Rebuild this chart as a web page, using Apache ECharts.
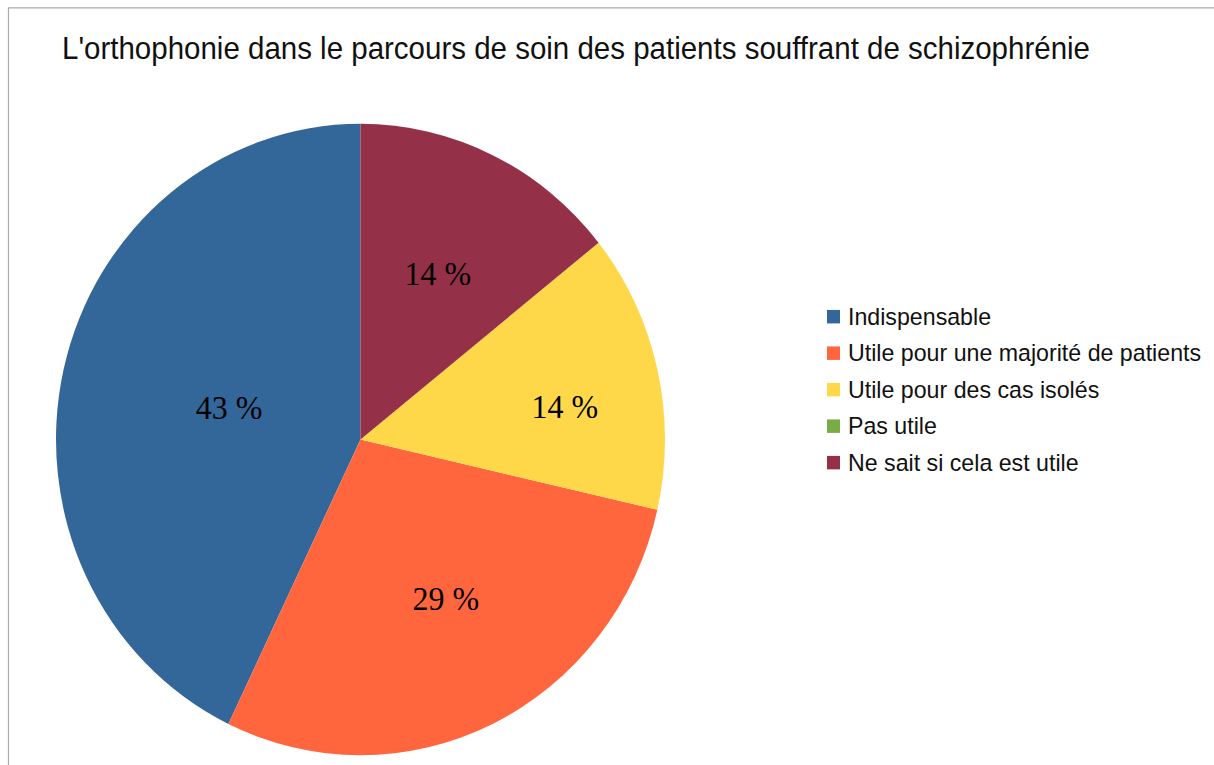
<!DOCTYPE html>
<html>
<head>
<meta charset="utf-8">
<script src="https://cdn.jsdelivr.net/npm/echarts@6/dist/echarts.min.js"></script>
<style>
  html, body { margin: 0; padding: 0; background: #ffffff; }
  #wrap { width: 1214px; height: 765px; overflow: hidden; position: relative; background: #ffffff; }
  #chart { position: absolute; left: 0; top: 0; width: 1214px; height: 738px; transform: scaleY(1.0366); transform-origin: 0 0; }
</style>
</head>
<body>
<div id="wrap"><div id="chart"></div></div>
<script>
// ---- data ----
const titleText = "L'orthophonie dans le parcours de soin des patients souffrant de schizophrénie";
const categories = [
  "Indispensable",
  "Utile pour une majorité de patients",
  "Utile pour des cas isolés",
  "Pas utile",
  "Ne sait si cela est utile"
];
const values = [3, 2, 1, 0, 1];
const colors = ["#346799", "#ff663d", "#ffd84a", "#78ad45", "#953049"];
// small per-slice label nudges (pixels) to mimic the original label placement
const labelNudges = [[20, 4], [18, 14], [53, 3], [0, 0], [10, -20]];

const chart = echarts.init(document.getElementById('chart'), null, { renderer: 'svg' });

const option = {
  animation: false,
  backgroundColor: '#ffffff',
  color: colors,
  title: {
    text: titleText,
    left: 62,
    top: 32,
    padding: 0,
    textStyle: {
      fontFamily: 'Liberation Sans',
      fontSize: 29.5,
      lineHeight: 29.5,
      fontWeight: 'normal',
      color: '#111111'
    }
  },
  legend: {
    orient: 'vertical',
    left: 827,
    top: 294,
    padding: 0,
    icon: 'rect',
    itemWidth: 13,
    itemHeight: 13,
    itemGap: 12.2,
    selectedMode: false,
    data: categories,
    textStyle: {
      fontFamily: 'Liberation Sans',
      fontSize: 23.2,
      lineHeight: 23,
      color: '#111111',
      padding: [0, 0, 0, 3]
    }
  },
  graphic: [
    {
      type: 'rect',
      silent: true,
      shape: { x: 8.5, y: 7.7, width: 1400, height: 900 },
      style: { fill: 'none', stroke: '#aaaaaa', lineWidth: 1.2 }
    }
  ],
  series: [
    {
      type: 'pie',
      center: [360.5, 424],
      radius: [0, 304.5],
      startAngle: 90,
      clockwise: false,
      percentPrecision: 0,
      avoidLabelOverlap: false,
      emphasis: { disabled: true },
      itemStyle: { borderWidth: 0 },
      label: {
        show: true,
        position: 'inside',
        fontFamily: 'Liberation Serif',
        fontSize: 32,
        color: '#000000',
        formatter: function (p) {
          return p.value === 0 ? '' : p.percent + ' %';
        }
      },
      labelLine: { show: false },
      labelLayout: function (params) {
        const n = labelNudges[params.dataIndex] || [0, 0];
        return { dx: n[0], dy: n[1] };
      },
      data: categories.map(function (c, i) {
        return { name: c, value: values[i] };
      })
    }
  ]
};

chart.setOption(option);
</script>
</body>
</html>
